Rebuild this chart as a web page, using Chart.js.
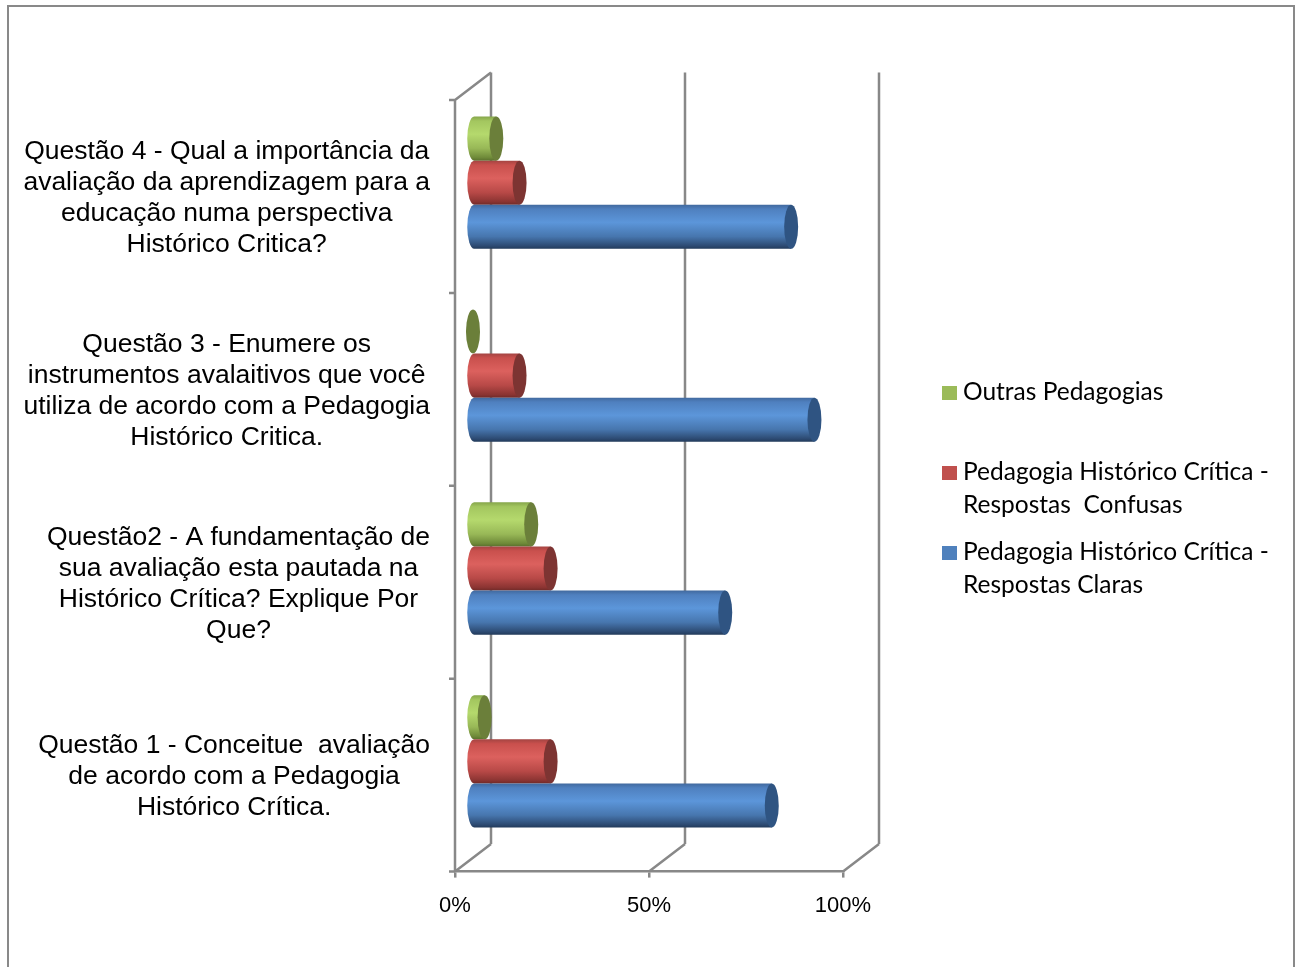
<!DOCTYPE html>
<html>
<head>
<meta charset="utf-8">
<script src="https://cdn.jsdelivr.net/npm/chart.js@4.4.1/dist/chart.umd.min.js"></script>
<style>
    html, body { margin: 0; padding: 0; background: #ffffff; overflow: hidden; }
    #wrap { position: relative; width: 1303px; height: 967px; }
</style>
</head>
<body>
<div id="wrap"><canvas id="chart"></canvas></div>
<script>
// Categories, top to bottom (each entry already wrapped into lines)
const questions = [
    ['Questão 4 - Qual a importância da', 'avaliação da aprendizagem para a', 'educação numa perspectiva', 'Histórico Critica?'],
    ['Questão 3 - Enumere os', 'instrumentos avalaitivos que você', 'utiliza de acordo com a Pedagogia', 'Histórico Critica.'],
    ['Questão2 - A fundamentação de', 'sua avaliação esta pautada na', 'Histórico Crítica? Explique Por', 'Que?'],
    ['Questão 1 - Conceitue  avaliação', 'de acordo com a Pedagogia', 'Histórico Crítica.']
];

// Series names (legend lines)
const seriesNames = [
    ['Outras Pedagogias'],
    ['Pedagogia Histórico Crítica -', 'Respostas  Confusas'],
    ['Pedagogia Histórico Crítica -', 'Respostas Claras']
];

// Values (share of answers), same order as questions
const outrasPedagogias = [0.06, 0.00, 0.15, 0.03];
const respostasConfusas = [0.12, 0.12, 0.20, 0.20];
const respostasClaras = [0.82, 0.88, 0.65, 0.77];

// Axis ticks
const xTicks = [0, 0.5, 1];

// Colours for each series: legend swatch, cylinder body gradient, end cap
const palette = [
    { swatch: '#9bbb59', cap: '#6b7f3a', body: ['#86a64b', '#a3c65f', '#b5d96d', '#98b857', '#6f8a39', '#5a702d'] },
    { swatch: '#c0504d', cap: '#7d3432', body: ['#a44442', '#c9504d', '#dc615e', '#b84947', '#8b3432', '#702a28'] },
    { swatch: '#4f81bd', cap: '#2f5482', body: ['#41699e', '#4f80bf', '#5c96da', '#4776ae', '#2d4b73', '#223a5a'] }
];

const GRAY = '#888888';
const DEPTH_X = 36, DEPTH_Y = -27.5;   // 3D depth of the walls
const LABEL_FONT = '26.5px "Liberation Sans", Arial, sans-serif';
const LEGEND_FONT = '24.5px Lato, "Open Sans", sans-serif';

// Walls and back grid lines
const wallsPlugin = {
    id: 'walls',
    beforeDatasetsDraw(chart) {
        const { ctx, chartArea } = chart;
        const xs = chart.scales.x;
        const left = chartArea.left, top = chartArea.top, bottom = chartArea.bottom;
        const n = questions.length;
        ctx.save();
        ctx.strokeStyle = GRAY;
        ctx.lineWidth = 2.5;
        ctx.beginPath();
        // front left edge and its tick marks
        ctx.moveTo(left, top);
        ctx.lineTo(left, bottom);
        for (let i = 0; i <= n; i++) {
            const y = top + i * (bottom - top) / n;
            ctx.moveTo(left - 6, y);
            ctx.lineTo(left, y);
        }
        // top edge of the side wall
        ctx.moveTo(left, top);
        ctx.lineTo(left + DEPTH_X, top + DEPTH_Y);
        // back grid lines and floor diagonals
        xTicks.forEach(v => {
            const x = xs.getPixelForValue(v);
            ctx.moveTo(x + DEPTH_X, top + DEPTH_Y);
            ctx.lineTo(x + DEPTH_X, bottom + DEPTH_Y);
            ctx.moveTo(x, bottom);
            ctx.lineTo(x + DEPTH_X, bottom + DEPTH_Y);
        });
        ctx.stroke();
        ctx.restore();
    }
};

// Cylinders instead of flat bars
const cylinderPlugin = {
    id: 'cylinders',
    beforeDatasetDraw() {
        return false;
    },
    afterDatasetsDraw(chart) {
        const { ctx } = chart;
        const dx = DEPTH_X / 2, dy = DEPTH_Y / 2;
        ctx.save();
        chart.data.datasets.forEach((ds, di) => {
            const meta = chart.getDatasetMeta(di);
            const col = palette[di];
            meta.data.forEach(bar => {
                const p = bar.getProps(['x', 'y', 'base', 'height'], true);
                const x0 = p.base + dx, x1 = p.x + dx;
                const cy = p.y + dy;
                const ry = p.height / 2, rx = 7;
                const yTop = cy - ry, yBot = cy + ry;

                if (x1 - x0 > 0.5) {
                    const g = ctx.createLinearGradient(0, yTop, 0, yBot);
                    const stops = [0, 0.1, 0.4, 0.72, 0.93, 1];
                    stops.forEach((s, k) => g.addColorStop(s, col.body[k]));
                    ctx.beginPath();
                    ctx.moveTo(x0, yTop);
                    ctx.lineTo(x1, yTop);
                    ctx.lineTo(x1, yBot);
                    ctx.lineTo(x0, yBot);
                    ctx.ellipse(x0, cy, rx, ry, 0, Math.PI / 2, Math.PI * 1.5);
                    ctx.closePath();
                    ctx.fillStyle = g;
                    ctx.fill();
                }
                ctx.beginPath();
                ctx.ellipse(x1, cy, rx, ry, 0, 0, Math.PI * 2);
                ctx.fillStyle = col.cap;
                ctx.fill();
            });
        });
        ctx.restore();
    }
};

// Category labels, legend and outer frame
const textPlugin = {
    id: 'texts',
    afterDraw(chart) {
        const { ctx } = chart;
        const ys = chart.scales.y;
        ctx.save();
        ctx.fillStyle = '#000000';
        ctx.textBaseline = 'middle';

        // category labels: block centred, widest line ending at x=430
        ctx.font = LABEL_FONT;
        ctx.textAlign = 'center';
        const lineH = 31;
        questions.forEach((lines, i) => {
            const widest = Math.max(...lines.map(l => ctx.measureText(l).width));
            const cx = 430 - widest / 2;
            const cy = ys.getPixelForValue(i) + 1.5;
            const y0 = cy - (lines.length - 1) * lineH / 2;
            lines.forEach((l, k) => ctx.fillText(l, cx, y0 + k * lineH));
        });

        // legend
        ctx.font = LEGEND_FONT;
        ctx.textAlign = 'left';
        const legendY = [392, 472, 552];
        seriesNames.forEach((lines, i) => {
            ctx.fillStyle = palette[i].swatch;
            ctx.fillRect(942, legendY[i] - 6, 15, 14);
            ctx.fillStyle = '#000000';
            lines.forEach((l, k) => ctx.fillText(l, 963, legendY[i] + k * 33.5));
        });

        // outer frame (bottom edge is cut off in the original)
        ctx.strokeStyle = '#898989';
        ctx.lineWidth = 2;
        ctx.beginPath();
        ctx.moveTo(8, 970);
        ctx.lineTo(8, 6);
        ctx.lineTo(1294, 6);
        ctx.lineTo(1294, 970);
        ctx.stroke();
        ctx.restore();
    }
};

new Chart(document.getElementById('chart'), {
    type: 'bar',
    data: {
        labels: questions.map(q => q.join(' ')),
        datasets: [
            { label: seriesNames[0].join(' '), data: outrasPedagogias, backgroundColor: palette[0].swatch },
            { label: seriesNames[1].join(' '), data: respostasConfusas, backgroundColor: palette[1].swatch },
            { label: seriesNames[2].join(' '), data: respostasClaras, backgroundColor: palette[2].swatch }
        ]
    },
    options: {
        indexAxis: 'y',
        responsive: true,
        maintainAspectRatio: false,
        animation: false,
        layout: { padding: { left: 455, right: 460, top: 100, bottom: 33 } },
        datasets: { bar: { categoryPercentage: 0.686, barPercentage: 1 } },
        plugins: { legend: { display: false }, tooltip: { enabled: false } },
        scales: {
            x: {
                min: 0,
                max: 1,
                afterBuildTicks: axis => { axis.ticks = xTicks.map(v => ({ value: v })); },
                ticks: {
                    callback: v => Math.round(v * 100) + '%',
                    color: '#000000',
                    font: { family: '"Liberation Sans", Arial, sans-serif', size: 22 },
                    padding: 15,
                    maxRotation: 0
                },
                grid: { drawOnChartArea: false, drawTicks: true, tickLength: 6, color: GRAY, lineWidth: 2.5 },
                border: { color: GRAY, width: 2.5 }
            },
            y: { display: false }
        }
    },
    plugins: [wallsPlugin, cylinderPlugin, textPlugin]
});
</script>
</body>
</html>
